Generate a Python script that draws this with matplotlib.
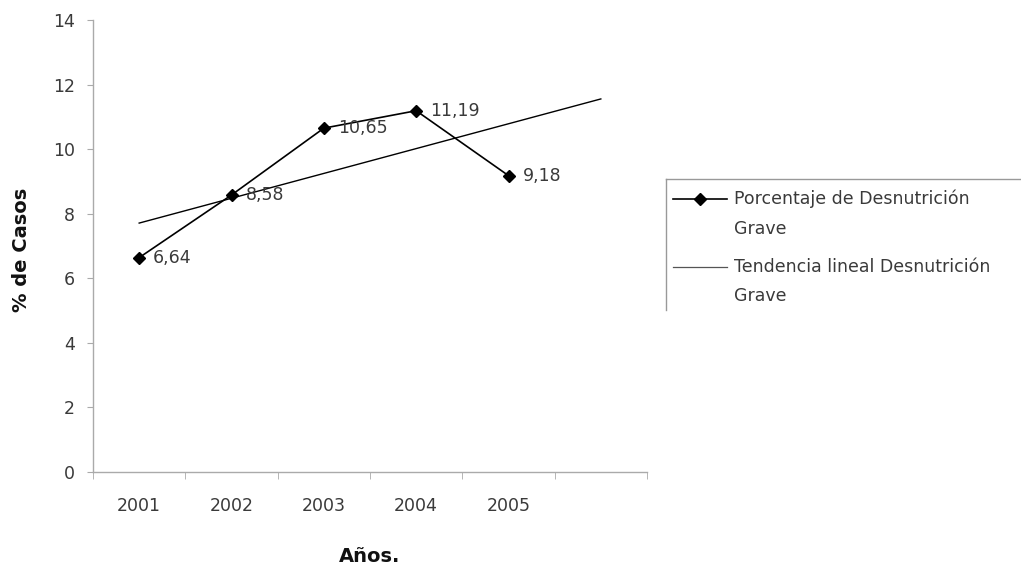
import numpy as np
import matplotlib
matplotlib.use('Agg')
import matplotlib.pyplot as plt
from matplotlib.lines import Line2D

plt.rcParams['font.family'] = ['DejaVu Sans']

anios = ['2001', '2002', '2003', '2004', '2005']
porcentaje = [6.64, 8.58, 10.65, 11.19, 9.18]
etiquetas = ['6,64', '8,58', '10,65', '11,19', '9,18']

W, H = 1021, 575
TXT = '#3a3a3a'
fig = plt.figure(figsize=(W / 100, H / 100), dpi=100)
fig.patch.set_facecolor('white')

# area del grafico en pixeles: x 93..647, y 20..472
ax = fig.add_axes([93 / W, (H - 472) / H, (647 - 93) / W, (472 - 20) / H])

x = np.arange(len(anios))
ax.plot(x, porcentaje, color='black', lw=1.2, marker='D', ms=6,
        markerfacecolor='black', markeredgecolor='black', zorder=3)

# tendencia lineal, proyectada un periodo hacia adelante
m, b = np.polyfit(x + 1, porcentaje, 1)
xt = np.array([0, len(anios)])
ax.plot(xt, m * (xt + 1) + b, color='black', lw=1.0, zorder=2)

for xi, yi, txt in zip(x, porcentaje, etiquetas):
    ax.annotate(txt, (xi, yi), xytext=(10, 0), textcoords='offset points',
                ha='left', va='center', fontsize=12.5, color=TXT)

ax.set_xlim(-0.5, len(anios) + 0.5)
ax.set_ylim(0, 14)
ax.set_yticks(range(0, 15, 2))
ax.set_xticks(x)
ax.set_xticklabels(anios)
ax.set_xticks(np.arange(-0.5, len(anios) + 1, 1), minor=True)
ax.tick_params(axis='x', which='major', length=0, pad=18, labelsize=12.5, labelcolor=TXT)
ax.tick_params(axis='x', which='minor', length=5, color='#aaaaaa', direction='out')
ax.tick_params(axis='y', length=4, color='#aaaaaa', pad=9, labelsize=12.5, labelcolor=TXT)

for s in ['top', 'right']:
    ax.spines[s].set_visible(False)
for s in ['left', 'bottom']:
    ax.spines[s].set_color('#aaaaaa')
    ax.spines[s].set_linewidth(1.0)

fig.text(370 / W, 1 - 557 / H, 'Años.', ha='center', va='center',
         fontsize=14, fontweight='bold', color='#111111')
fig.text(22 / W, 1 - 250 / H, '% de Casos', ha='center', va='center',
         rotation=90, fontsize=14, fontweight='bold', color='#111111')

# leyenda: solo bordes superior e izquierdo, se sale de la figura
def fx(px):
    return px / W

def fy(py):
    return 1 - py / H

fig.add_artist(Line2D([fx(666), fx(1021)], [fy(179), fy(179)], color='#999999', lw=1.0))
fig.add_artist(Line2D([fx(666), fx(666)], [fy(179), fy(310)], color='#999999', lw=1.0))

fig.add_artist(Line2D([fx(673), fx(727)], [fy(199), fy(199)], color='black', lw=1.2))
fig.add_artist(Line2D([fx(700)], [fy(199)], color='black', marker='D', ms=6))
fig.text(fx(734), fy(199), 'Porcentaje de Desnutrición', ha='left', va='center',
         fontsize=12.5, color=TXT)
fig.text(fx(734), fy(229), 'Grave', ha='left', va='center', fontsize=12.5, color=TXT)

fig.add_artist(Line2D([fx(673), fx(727)], [fy(267), fy(267)], color='#555555', lw=0.9))
fig.text(fx(734), fy(267), 'Tendencia lineal Desnutrición', ha='left', va='center',
         fontsize=12.5, color=TXT)
fig.text(fx(734), fy(296), 'Grave', ha='left', va='center', fontsize=12.5, color=TXT)

fig.savefig('out.png', dpi=100, facecolor='white')
